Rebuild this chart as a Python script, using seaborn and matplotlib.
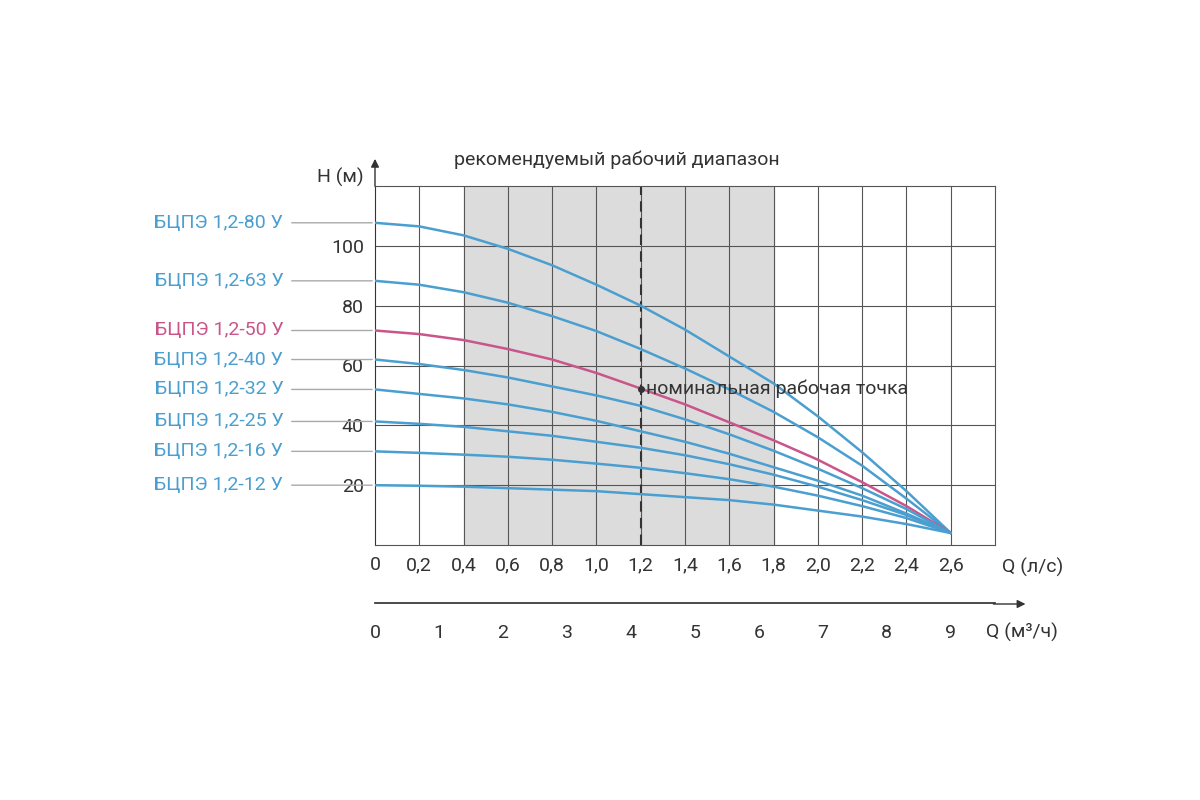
import numpy as np
import matplotlib
matplotlib.use("Agg")
import matplotlib.pyplot as plt
import seaborn as sns

sns.set_theme(style="white")
plt.rcParams["font.family"] = ["Roboto", "DejaVu Sans"]

q = [0, 0.2, 0.4, 0.6, 0.8, 1.0, 1.2, 1.4, 1.6, 1.8, 2.0, 2.2, 2.4, 2.6]
curves = {
    "БЦПЭ 1,2-80 У": [107.7, 106.5, 103.5, 99, 93.5, 87, 80, 72, 63, 54, 43, 31, 18, 4],
    "БЦПЭ 1,2-63 У": [88.3, 87, 84.5, 81, 76.5, 71.5, 65.5, 59, 52, 44.5, 36, 26.5, 15.5, 4],
    "БЦПЭ 1,2-50 У": [71.7, 70.5, 68.5, 65.5, 62, 57.5, 52.3, 47, 41, 35, 28.5, 21, 13, 4],
    "БЦПЭ 1,2-40 У": [62, 60.5, 58.5, 56, 53, 50, 46.5, 42, 37, 31.5, 25.5, 19, 12, 4],
    "БЦПЭ 1,2-32 У": [52, 50.5, 49, 47, 44.5, 41.5, 38, 34.5, 30.5, 26, 21.5, 16.5, 10.5, 4],
    "БЦПЭ 1,2-25 У": [41.3, 40.5, 39.5, 38, 36.5, 34.5, 32.5, 30, 27, 23.5, 19.5, 15, 10, 4],
    "БЦПЭ 1,2-16 У": [31.3, 30.8, 30.2, 29.5, 28.5, 27.2, 25.8, 24, 22, 19.5, 16.5, 13, 9, 4],
    "БЦПЭ 1,2-12 У": [20, 19.8, 19.5, 19, 18.5, 18, 17, 16, 15, 13.5, 11.5, 9.5, 7, 4],
}
highlight = "БЦПЭ 1,2-50 У"
q_ticks = [0, 0.2, 0.4, 0.6, 0.8, 1.0, 1.2, 1.4, 1.6, 1.8, 2.0, 2.2, 2.4, 2.6]
m3_ticks = [0, 1, 2, 3, 4, 5, 6, 7, 8, 9]

blue = "#4a9fd0"
pink = "#c9558a"
txt = "#333333"

fig = plt.figure(figsize=(12, 8), dpi=100)
ax = fig.add_axes([0.3125, 0.31875, 0.5167, 0.44875])
ax.set_xlim(0, 2.8)
ax.set_ylim(0, 120)
ax.axvspan(0.4, 1.8, color="#dcdcdc", zorder=0)
for x in np.arange(0.2, 2.8, 0.2):
    ax.axvline(x, color="#555555", lw=0.8, zorder=1)
for y in range(20, 120, 20):
    ax.axhline(y, color="#555555", lw=0.8, zorder=1)
ax.axvline(1.2, color="#333333", lw=1.5, ls=(0, (5, 3)), zorder=2)

for name, h in curves.items():
    c = pink if name == highlight else blue
    sns.lineplot(x=q, y=h, ax=ax, color=c, lw=1.8, zorder=3)
    ax.annotate("", xy=(0, h[0]), xytext=(-62, 0), textcoords="offset points",
                xycoords="data", annotation_clip=False,
                arrowprops=dict(arrowstyle="-", color="#aaaaaa", lw=1))
    ax.annotate(name, xy=(0, h[0]), xytext=(-66, 0), textcoords="offset points",
                ha="right", va="center", color=c, fontsize=14, annotation_clip=False)

ax.plot([1.2], [52.3], "o", color="#333333", ms=4, zorder=4)
ax.text(1.225, 52.3, "номинальная рабочая точка", fontsize=14, color=txt, va="center",
        zorder=4)

ax.set_xticks(q_ticks)
ax.set_xticklabels([f"{v:.1f}".replace(".", ",") if v else "0" for v in q_ticks])
ax.set_yticks([20, 40, 60, 80, 100])
ax.tick_params(labelsize=14, colors=txt, length=0, pad=8)
for s in ax.spines.values():
    s.set_color("#555555")
    s.set_linewidth(0.8)
ax.spines["left"].set_color("#333333")
ax.annotate("", xy=(0, 130), xytext=(0, 119), xycoords="data", annotation_clip=False,
            arrowprops=dict(arrowstyle="-|>", color="#333333", lw=1))
ax.text(-0.05, 123, "H (м)", fontsize=14, color=txt, ha="right", va="center")
ax.text(2.83, -7.5, "Q (л/с)", fontsize=14, color=txt, va="center")
ax.text(1.09, 127, "рекомендуемый рабочий диапазон", fontsize=14, color=txt, ha="center")

ax2 = fig.add_axes([0.3125, 0.245, 0.5167, 0.001])
ax2.set_xlim(0, 2.8)
ax2.set_yticks([])
for k in ["left", "right", "bottom"]:
    ax2.spines[k].set_visible(False)
ax2.spines["top"].set_color("#333333")
ax2.annotate("", xy=(2.95, 0), xytext=(2.78, 0), annotation_clip=False,
             xycoords=("data", "axes fraction"),
             arrowprops=dict(arrowstyle="-|>", color="#333333", lw=1))
ax2.set_xticks([m * 2.6 / 9 for m in m3_ticks])
ax2.set_xticklabels([str(m) for m in m3_ticks])
ax2.tick_params(labelsize=14, colors=txt, length=5, width=1, pad=12, direction="inout")
fig.text(0.822, 0.21, "Q (м³/ч)", fontsize=14, color=txt, va="center")

fig.savefig("out.png", dpi=100)
